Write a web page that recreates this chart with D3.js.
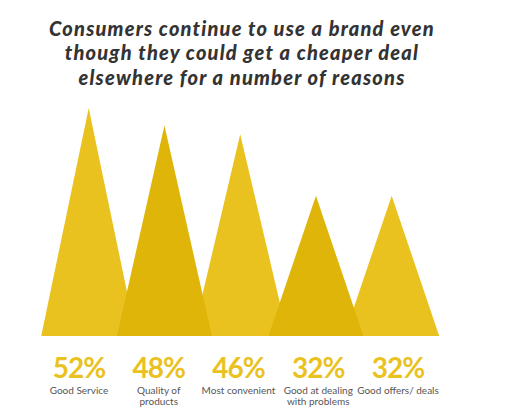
<!DOCTYPE html>
<html>
<head>
<meta charset="utf-8">
<script src="https://cdn.jsdelivr.net/npm/d3@7"></script>
<style>
  html, body { margin: 0; padding: 0; background: #fff; }
  svg { display: block; }
</style>
</head>
<body>
<svg id="chart" width="511" height="419"></svg>
<script>
const categories = ["Good Service", "Quality of products", "Most convenient", "Good at dealing with problems", "Good offers/ deals"];
const labelLines = [["Good Service"], ["Quality of", "products"], ["Most convenient"], ["Good at dealing", "with problems"], ["Good offers/ deals"]];
const values = [52, 48, 46, 32, 32];
const titleLines = ["Consumers continue to use a brand even", "though they could get a cheaper deal", "elsewhere for a number of reasons"];

const svg = d3.select("#chart");
const baseY = 336;

const x = d3.scalePoint().domain(categories).range([88.7, 391.7]);
const xLabel = d3.scalePoint().domain(categories).range([79, 398]);
const y = d3.scaleLinear().domain([0, 52]).range([baseY, 108]);
const halfW = 47.5;

const light = "#EAC21F", dark = "#DFB509";
const data = categories.map((c, i) => ({ c, v: values[i], i }));

// Title
const title = svg.append("g").attr("font-family", "Lato, 'Open Sans', sans-serif")
  .attr("font-weight", 900).attr("font-style", "italic").attr("fill", "#333");
titleLines.forEach((t, i) => {
  title.append("text").attr("x", 242).attr("y", 35.5 + i * 24.5)
    .attr("text-anchor", "middle").attr("font-size", 20)
    .attr("letter-spacing", 1.2).text(t);
});

// Triangles: light ones first, darker ones on top
const order = data.filter(d => d.i % 2 === 0).concat(data.filter(d => d.i % 2 === 1));
svg.append("g").selectAll("path").data(order).join("path")
  .attr("d", d => {
    const cx = x(d.c);
    return `M${cx - halfW},${y(0)}L${cx},${y(d.v)}L${cx + halfW},${y(0)}Z`;
  })
  .attr("fill", d => d.i % 2 === 0 ? light : dark);

// Percent labels
svg.append("g").selectAll("text").data(data).join("text")
  .attr("x", d => xLabel(d.c)).attr("y", 378)
  .attr("text-anchor", "middle")
  .attr("font-family", "Lato, sans-serif").attr("font-weight", 700)
  .attr("font-size", 28).attr("letter-spacing", -1).attr("fill", light)
  .text(d => d.v + "%");

// Category labels
const cl = svg.append("g").attr("font-family", "Lato, sans-serif").attr("font-size", 10)
  .attr("fill", "#555").attr("text-anchor", "middle");
data.forEach(d => {
  labelLines[d.i].forEach((ln, j) => {
    cl.append("text").attr("x", xLabel(d.c)).attr("y", 393.5 + j * 11.5).text(ln);
  });
});
</script>
</body>
</html>
